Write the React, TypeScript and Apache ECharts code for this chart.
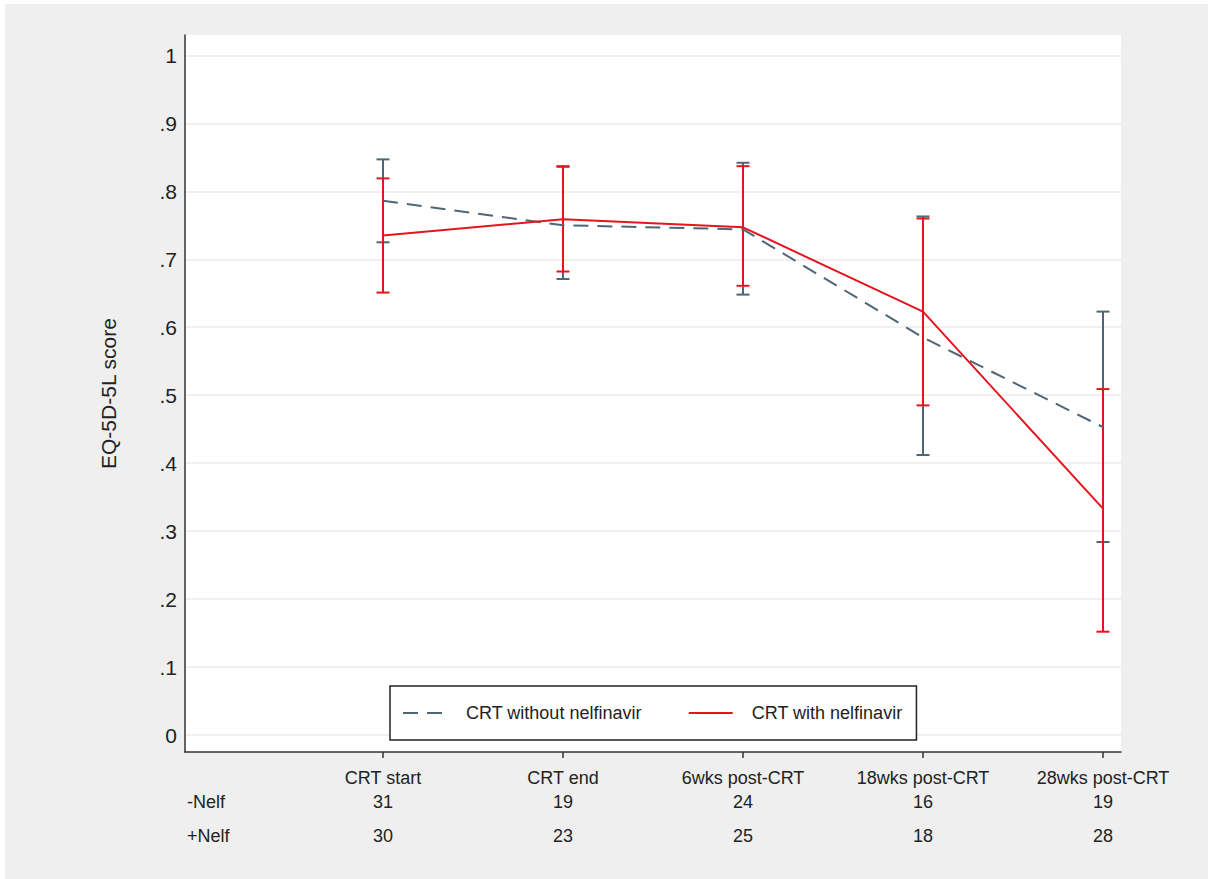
import React, { useEffect, useRef } from "react";
import * as echarts from "echarts";

const categories = ["CRT start", "CRT end", "6wks post-CRT", "18wks post-CRT", "28wks post-CRT"];
const categoryPositions = [1, 2, 3, 4, 5];

const withoutMean = [0.786, 0.750, 0.744, 0.585, 0.453];
const withoutUpper = [0.847, 0.836, 0.842, 0.763, 0.623];
const withoutLower = [0.725, 0.671, 0.648, 0.412, 0.284];

const withMean = [0.735, 0.759, 0.747, 0.623, 0.333];
const withUpper = [0.819, 0.837, 0.837, 0.760, 0.509];
const withLower = [0.651, 0.682, 0.661, 0.485, 0.152];

const nWithout = [31, 19, 24, 16, 19];
const nWith = [30, 23, 25, 18, 28];

const yTickValues = [0, 0.1, 0.2, 0.3, 0.4, 0.5, 0.6, 0.7, 0.8, 0.9, 1];
const yTickLabels = ["0", ".1", ".2", ".3", ".4", ".5", ".6", ".7", ".8", ".9", "1"];

const rowLabels = ["-Nelf", "+Nelf"];

const GRAY = "#4e6676";
const RED = "#e5141d";
const FONT = "'Liberation Sans', Arial, sans-serif";

function catIndex(v: number) {
  return Math.round(v) - 1;
}

function errorBarSeries(name: string, color: string, lower: number[], upper: number[], z: number) {
  return {
    type: "custom",
    name,
    z,
    silent: true,
    data: categoryPositions.map((x, i) => [x, lower[i], upper[i]]),
    encode: { x: 0, y: [1, 2] },
    renderItem: (params: any, api: any) => {
      const x = api.value(0);
      const lo = api.coord([x, api.value(1)]);
      const hi = api.coord([x, api.value(2)]);
      const hw = 6.5;
      const style = { stroke: color, lineWidth: 2 };
      return {
        type: "group",
        children: [
          { type: "line", shape: { x1: lo[0], y1: lo[1], x2: hi[0], y2: hi[1] }, style },
          { type: "line", shape: { x1: lo[0] - hw, y1: lo[1], x2: lo[0] + hw, y2: lo[1] }, style },
          { type: "line", shape: { x1: hi[0] - hw, y1: hi[1], x2: hi[0] + hw, y2: hi[1] }, style },
        ],
      };
    },
  };
}

export default function App() {
  const ref = useRef<HTMLDivElement>(null);

  useEffect(() => {
    document.body.style.margin = "0";
    if (!ref.current) return;
    const chart = echarts.init(ref.current, null, { renderer: "svg" });

    const countAxis = (counts: number[], margin: number) => ({
      type: "value",
      gridIndex: 0,
      position: "bottom",
      min: -0.1,
      max: 5.1,
      axisLine: { show: false, onZero: false },
      axisTick: { show: false, customValues: categoryPositions },
      splitLine: { show: false },
      axisLabel: {
        customValues: categoryPositions,
        formatter: (v: number) => String(counts[catIndex(v)]),
        fontSize: 18,
        color: "#222",
        margin,
        fontFamily: FONT,
      },
    });

    const option: any = {
      animation: false,
      backgroundColor: "#ffffff",
      textStyle: { fontFamily: FONT },
      graphic: [
        {
          type: "rect",
          z: -100,
          silent: true,
          shape: { x: 5, y: 4, width: 1203, height: 875 },
          style: { fill: "#efefef" },
        },
        {
          type: "text",
          x: 187,
          y: 802,
          style: { text: rowLabels[0], fontSize: 18, fill: "#222", fontFamily: FONT, verticalAlign: "middle", align: "left" },
        },
        {
          type: "text",
          x: 187,
          y: 836,
          style: { text: rowLabels[1], fontSize: 18, fill: "#222", fontFamily: FONT, verticalAlign: "middle", align: "left" },
        },
      ],
      grid: {
        left: 185,
        right: 87,
        top: 35,
        bottom: 127,
        show: true,
        backgroundColor: "#ffffff",
        borderWidth: 0,
      },
      legend: {
        data: ["CRT without nelfinavir", "CRT with nelfinavir"],
        left: 390,
        top: 686,
        orient: "horizontal",
        backgroundColor: "#ffffff",
        borderColor: "#222",
        borderWidth: 1.5,
        borderRadius: 0,
        padding: [18, 14, 18, 12],
        itemWidth: 44,
        itemHeight: 14,
        itemGap: 46,
        itemStyle: { opacity: 0, borderWidth: 0 },
        textStyle: { fontSize: 18, color: "#222", fontFamily: FONT, padding: [0, 0, 0, 14] },
      },
      xAxis: [
        {
          type: "value",
          min: -0.1,
          max: 5.1,
          axisLine: { show: true, onZero: false, lineStyle: { color: "#333", width: 1.5 } },
          axisTick: { show: true, customValues: categoryPositions, length: 6, lineStyle: { color: "#333", width: 1.5 } },
          splitLine: { show: false },
          axisLabel: {
            customValues: categoryPositions,
            formatter: (v: number) => categories[catIndex(v)],
            fontSize: 18,
            color: "#222",
            margin: 17,
            fontFamily: FONT,
          },
        },
        countAxis(nWithout, 41),
        countAxis(nWith, 75),
      ],
      yAxis: {
        type: "value",
        min: -0.025,
        max: 1.03,
        name: "EQ-5D-5L score",
        nameLocation: "middle",
        nameGap: 66,
        nameTextStyle: { fontSize: 21, color: "#222", fontFamily: FONT },
        axisLine: { show: true, onZero: false, lineStyle: { color: "#333", width: 1.5 } },
        axisTick: { show: false, customValues: yTickValues },
        splitLine: { show: true, lineStyle: { color: "#ebebeb", width: 1.5 } },
        axisLabel: {
          customValues: yTickValues,
          formatter: (v: number) => yTickLabels[Math.round(v * 10)],
          fontSize: 21,
          color: "#222",
          margin: 8,
          fontFamily: FONT,
        },
      },
      series: [
        errorBarSeries("ci-without", GRAY, withoutLower, withoutUpper, 2),
        errorBarSeries("ci-with", RED, withLower, withUpper, 3),
        {
          type: "line",
          name: "CRT without nelfinavir",
          z: 4,
          symbol: "none",
          data: categoryPositions.map((x, i) => [x, withoutMean[i]]),
          lineStyle: { color: GRAY, width: 2, type: [15, 9] },
          itemStyle: { color: GRAY },
        },
        {
          type: "line",
          name: "CRT with nelfinavir",
          z: 5,
          symbol: "none",
          data: categoryPositions.map((x, i) => [x, withMean[i]]),
          lineStyle: { color: RED, width: 2, type: "solid" },
          itemStyle: { color: RED },
        },
      ],
    };

    chart.setOption(option);
    return () => chart.dispose();
  }, []);

  return <div ref={ref} style={{ width: 1208, height: 879 }} />;
}
